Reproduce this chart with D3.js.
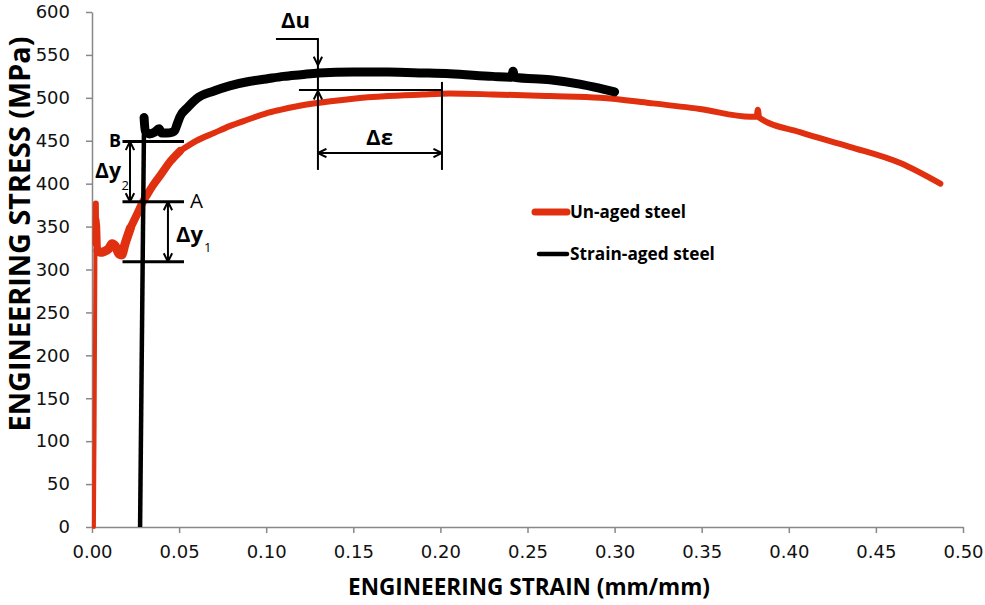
<!DOCTYPE html>
<html><head><meta charset="utf-8">
<script src="https://cdn.jsdelivr.net/npm/d3@7"></script>
<style>body{margin:0;background:#fff}</style>
</head><body>
<svg id="c" width="985" height="605"></svg>
<script>
// ---------- data ----------
const xTicks = [0, 0.05, 0.10, 0.15, 0.20, 0.25, 0.30, 0.35, 0.40, 0.45, 0.50];
const yTicks = [0, 50, 100, 150, 200, 250, 300, 350, 400, 450, 500, 550, 600];
const seriesNames = ["Un-aged steel", "Strain-aged steel"];
const unagedStrain = [0.0011,0.0015,0.0018,0.0020,0.0022,0.0024,0.0026,0.0030,0.0034,0.0045,0.0070,0.0095,0.0115,0.0135,0.0155,0.0170,0.0190,0.0220,0.0260,0.0293,0.0316,0.0350,0.0400,0.0450,0.0505,0.0600,0.0700,0.0790,0.0900,0.1000,0.1080,0.1200,0.1370,0.1500,0.1700,0.1900,0.2055,0.2300,0.2630,0.2916,0.3200,0.3490,0.3780,0.3815,0.3822,0.3830,0.4064,0.4350,0.4640,0.4870];
const unagedStress = [0,120,250,330,377,340,358,350,322,320,321,324,330,327,318,317,330,348,365,379,387,398,412,426,438,450,459,467,475,482,486,491,496,499,502,504,505,504,502,500,494,487,478,478,486,477,460,443,424,400];
const agedStrain = [0.0276,0.0299,0.0305,0.0330,0.0360,0.0385,0.0400,0.0430,0.0460,0.0475,0.0490,0.0505,0.0550,0.0600,0.0700,0.0790,0.0900,0.1000,0.1100,0.1200,0.1300,0.1500,0.1700,0.1900,0.2055,0.2300,0.2410,0.2417,0.2425,0.2630,0.2800,0.2916,0.3000];
const agedStress = [0,477,462,458,460,464,459,459,460,462,470,478,489,499,508,514,519,522,525,527,529,530,530,529,528,525,524,531,524,521,516,511,507];
// annotation levels (data units)
const stressB = 449, stressA = 379, stressBase = 309;
const yieldLineStrain = [0.0175, 0.0528];
const dy2Strain = 0.0218, dy1Strain = 0.0436;
const duStrain = [0.1056, 0.1297], duStress = 568.6, duTip = 538;
const uTip = 508, uLevel = 509, uLineStrain = [0.1188, 0.2009];
const deStrain = [0.1297, 0.2009], deStress = 435.7, deBottom = 416, deRightTop = 518.5;

// ---------- layout ----------
const svg = d3.select("#c");
const x = d3.scaleLinear().domain([0, 0.5]).range([92, 963]);
const y = d3.scaleLinear().domain([0, 600]).range([527, 12]);
const red = "#E1300F";
const axisCol = "#888";
const tickFont = "'DejaVu Sans', Verdana, sans-serif";
const boldFont = "'Open Sans', 'Liberation Sans', sans-serif";

function fit(sel, target) {
  const fs = parseFloat(sel.attr("font-size"));
  const w = sel.node().getComputedTextLength();
  sel.attr("font-size", fs * target / w);
  return sel;
}

// axes
const gx = svg.append("g").attr("transform", "translate(0,527)")
  .call(d3.axisBottom(x).tickValues(xTicks).tickFormat(d3.format(".2f")).tickSizeInner(6).tickSizeOuter(0).tickPadding(12));
const gy = svg.append("g").attr("transform", "translate(92,0)")
  .call(d3.axisLeft(y).tickValues(yTicks).tickFormat(d3.format("d")).tickSizeInner(6).tickSizeOuter(0).tickPadding(16));
[gx, gy].forEach(g => {
  g.selectAll("path,line").attr("stroke", axisCol).attr("stroke-width", 1.5);
  g.selectAll("text").attr("font-family", tickFont).attr("font-size", 18).attr("fill", "#111");
});

// axis titles
const xt = svg.append("text").attr("x", 529).attr("y", 595).attr("text-anchor", "middle")
  .attr("font-family", boldFont).attr("font-weight", 700).attr("font-size", 19).text("ENGINEERING STRAIN (mm/mm)");
fit(xt, 362);
const yt = svg.append("text").attr("transform", "translate(30,234) rotate(-90)").attr("text-anchor", "middle")
  .attr("font-family", boldFont).attr("font-weight", 700).attr("font-size", 21).text("ENGINEERING STRESS (MPa)");
fit(yt, 395);

// series
const line = d3.line().x(d => x(d[0])).y(d => y(d[1]));
const smooth = d3.line().x(d => x(d[0])).y(d => y(d[1])).curve(d3.curveMonotoneX);
const unaged = unagedStrain.map((s, i) => [s, unagedStress[i]]);
const aged = agedStrain.map((s, i) => [s, agedStress[i]]);
const rs = (d, w, gen) => svg.append("path").attr("d", gen(d)).attr("fill", "none").attr("stroke", red)
  .attr("stroke-width", w).attr("stroke-linejoin", "round").attr("stroke-linecap", "round");
rs(unaged.slice(0, 5), 4, line);
rs(unaged.slice(3, 9), 6, line);
rs(unaged.slice(8, 18), 9, smooth);
rs(unaged.slice(17, 25), 8, smooth);
rs(unaged.slice(24), 6, smooth);
svg.append("path").attr("d", line(aged.slice(0, 2))).attr("fill", "none").attr("stroke", "#000").attr("stroke-width", 4.5);
svg.append("path").attr("d", smooth(aged.slice(1))).attr("fill", "none").attr("stroke", "#000").attr("stroke-width", 9).attr("stroke-linejoin", "round").attr("stroke-linecap", "round");

// arrow marker
const defs = svg.append("defs");
defs.append("marker").attr("id", "arr").attr("viewBox", "0 0 10 10").attr("refX", 9.5).attr("refY", 5)
  .attr("markerWidth", 10).attr("markerHeight", 10).attr("markerUnits", "userSpaceOnUse").attr("orient", "auto-start-reverse")
  .append("path").attr("d", "M1,0.8 L9.5,5 L1,9.2").attr("fill", "none").attr("stroke", "#000").attr("stroke-width", 2);

const ann = svg.append("g").attr("stroke", "#000").attr("fill", "none");
function seg(p, w, ms, me) {
  const s = ann.append("path").attr("d", line(p)).attr("stroke-width", w);
  if (ms) s.attr("marker-start", "url(#arr)");
  if (me) s.attr("marker-end", "url(#arr)");
  return s;
}
[stressB, stressA, stressBase].forEach(v => seg([[yieldLineStrain[0], v], [yieldLineStrain[1], v]], 3));
seg([[dy2Strain, stressB], [dy2Strain, stressA]], 2, true, true);
seg([[dy1Strain, stressA], [dy1Strain, stressBase]], 2, true, true);
seg([[duStrain[0], duStress], [duStrain[1], duStress], [duStrain[1], duTip]], 2, false, true);
seg([[duStrain[1], duTip], [duStrain[1], uTip]], 2);
seg([[duStrain[1], deBottom], [duStrain[1], uTip]], 2, false, true);
seg([[uLineStrain[0], uLevel], [uLineStrain[1], uLevel]], 2);
seg([[deStrain[1], deRightTop], [deStrain[1], deBottom]], 2);
seg([[deStrain[0], deStress], [deStrain[1], deStress]], 2, true, true);

// annotation labels
function lab(tx, ty, t, size, wt, target) {
  const s = svg.append("text").attr("x", tx).attr("y", ty).attr("font-family", boldFont)
    .attr("font-weight", wt).attr("font-size", size).text(t);
  if (target) fit(s, target);
  return s;
}
lab(281, 28, "Δu", 19, 700, 29);
lab(366, 145, "Δε", 19, 700, 27);
lab(109, 147, "B", 14, 700, 12);
lab(190, 208, "A", 15, 400, 13);
lab(95, 178, "Δy", 22, 700, 26);
lab(121.5, 190, "2", 13, 400);
lab(176, 242, "Δy", 22, 700, 27);
lab(204, 252, "1", 13, 400);

// legend
const legY = [212, 254];
const legW = [7, 4.5];
const legCol = [red, "#000"];
const legX0 = [535, 539];
seriesNames.forEach((n, i) => {
  svg.append("line").attr("x1", legX0[i]).attr("x2", 567).attr("y1", legY[i]).attr("y2", legY[i])
    .attr("stroke", legCol[i]).attr("stroke-width", legW[i]).attr("stroke-linecap", "round");
  const t = svg.append("text").attr("x", 570).attr("y", legY[i] + 6).attr("font-family", boldFont)
    .attr("font-weight", 700).attr("font-size", 16).text(n);
  fit(t, i === 0 ? 116 : 145);
});
</script>
</body></html>
